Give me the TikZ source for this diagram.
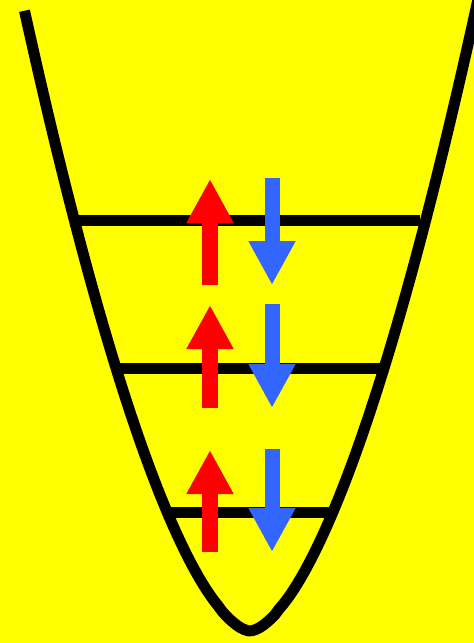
\documentclass[tikz,border=0pt]{standalone}
\usepackage{tikz}
\usetikzlibrary{arrows.meta}
\usetikzlibrary{calc}

\definecolor{bgyellow}{HTML}{FFFF00}
\definecolor{spinred}{HTML}{FF0000}
\definecolor{spinblue}{HTML}{3366FF}

\tikzset{
    well/.style={line width=11pt, black},
    level/.style={line width=11pt, black},
    spinup/.style={line width=16pt, spinred, -{Triangle[width=44pt,length=44pt]}},
    spindown/.style={line width=15pt, spinblue, -{Triangle[width=44pt,length=44pt]}}
}

\begin{document}
\begin{tikzpicture}[x=1pt,y=-1pt]
            % background and page size
            \fill[bgyellow] (0,0) rectangle (474,643);
            \useasboundingbox (0,0) rectangle (474,643);
            \clip (0,0) rectangle (474,643);

            % potential well
            \draw[well] plot[domain=-225.5:230, samples=121]
                ({250+\x}, {631-618*(abs(\x)/225)^1.65});

            % energy levels
            \coordinate (lvlAl) at (74,220);  \coordinate (lvlAr) at (420,220);
            \coordinate (lvlBl) at (116,368); \coordinate (lvlBr) at (381,368);
            \coordinate (lvlCl) at (167,512); \coordinate (lvlCr) at (330,512);
            \draw[level] (lvlAl) -- (lvlAr);
            \draw[level] (lvlBl) -- (lvlBr);
            \draw[level] (lvlCl) -- (lvlCr);

            % spin pairs
            \foreach \lo/\hi [count=\i] in {285/179, 408/305, 552/450} {
                \coordinate (upS\i) at (210,\lo);
                \coordinate (upE\i) at (210,\hi);
                \coordinate (dnS\i) at (272,\hi-1);
                \coordinate (dnE\i) at (272,\lo);
                \draw[spinup] (upS\i) -- (upE\i);
                \draw[spindown] (dnS\i) -- (dnE\i);
            }
\end{tikzpicture}
\end{document}
